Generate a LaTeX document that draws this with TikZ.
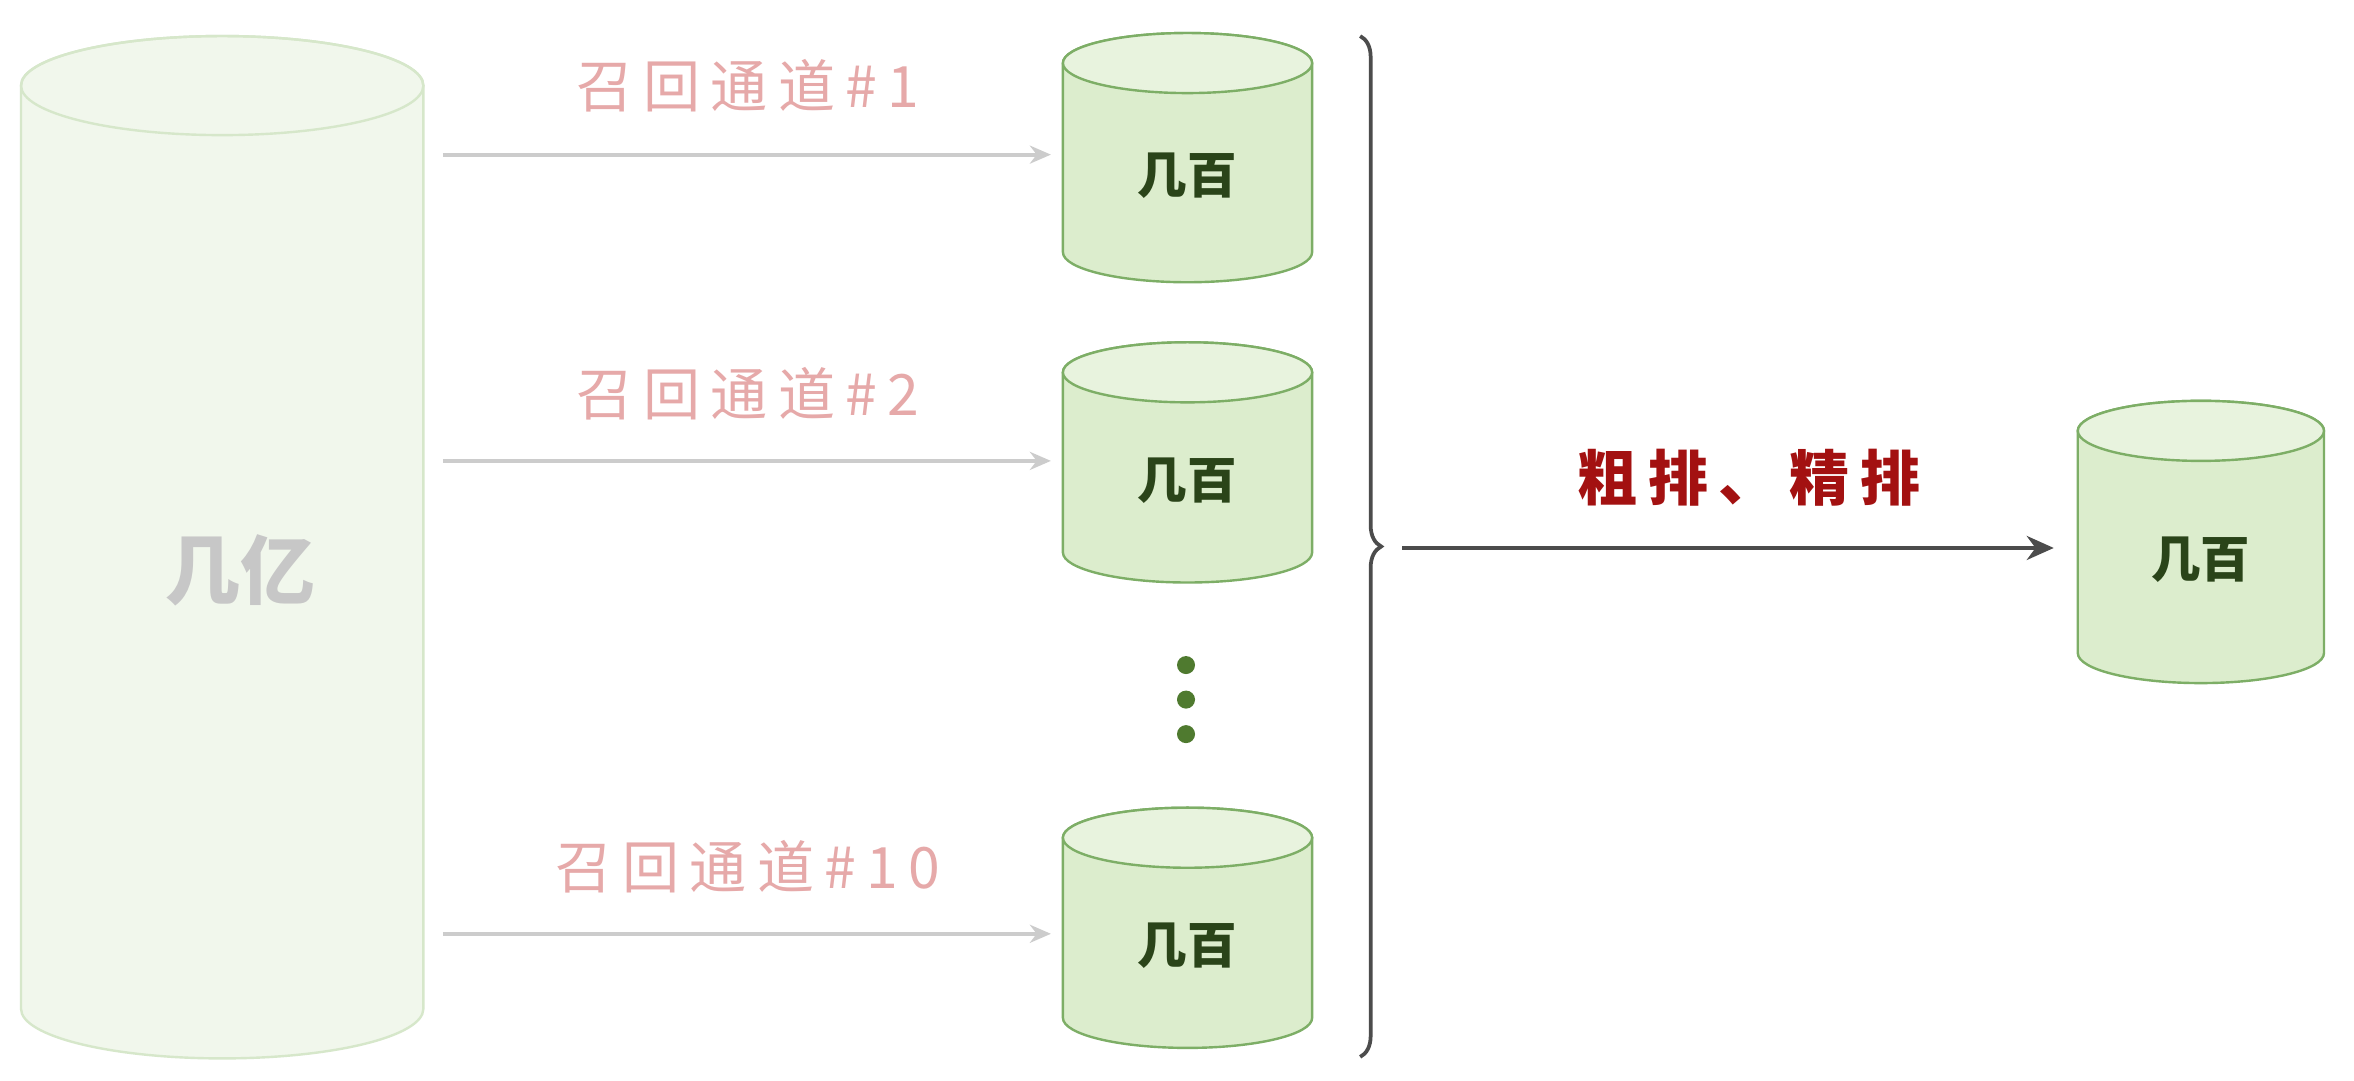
\documentclass[tikz,border=0pt]{standalone}
\usepackage{fontspec}
\newfontfamily\cjk{Noto Sans CJK SC}
\newfontfamily\cjkw[LetterSpace=18]{Noto Sans CJK SC}
\usetikzlibrary{arrows.meta,decorations.pathreplacing}
\definecolor{bigfill}{HTML}{F1F7EC}
\definecolor{bigline}{HTML}{D6E7CA}
\definecolor{smfill}{HTML}{DCEDCD}
\definecolor{smtop}{HTML}{E8F3DE}
\definecolor{smline}{HTML}{7DAE66}
\definecolor{pinklab}{HTML}{E6A9A9}
\definecolor{darkred}{HTML}{A31111}
\definecolor{txtgreen}{HTML}{2A4419}
\definecolor{dotgreen}{HTML}{4F7A2F}
\tikzset{
  flow/.style={draw=black!20,line width=2.5pt,-{Stealth[length=14pt,width=12pt]}},
  chan/.style={text=pinklab,font=\cjkw\fontsize{38}{40}\selectfont},
  few/.style={text=txtgreen,font=\cjk\bfseries\fontsize{33}{36}\selectfont},
}
\newcommand{\mycyl}[6]{% x1 x2 ytop ybot ry name
  \fill[smfill,draw=smline,line width=1.6pt] (#1,#3) -- (#1,#4) arc[start angle=180,end angle=0,x radius={(#2-#1)/2},y radius=#5] -- (#2,#3) arc[start angle=0,end angle=-180,x radius={(#2-#1)/2},y radius=#5] -- cycle;
  \fill[smtop,draw=smline,line width=1.6pt] ({(#1+#2)/2},#3) ellipse[x radius={(#2-#1)/2},y radius=#5];
  \node[few] (#6) at ({(#1+#2)/2},{(#3+#4)/2+12}) {几百};
}
\begin{document}
\begin{tikzpicture}[x=1pt,y=-1pt]
\useasboundingbox[fill=white] (0,0) rectangle (1568,720);
% big cylinder
\fill[bigfill,draw=bigline,line width=1.6pt] (14,57) -- (14,672) arc[start angle=180,end angle=0,x radius=134,y radius=33] -- (282,57) arc[start angle=0,end angle=-180,x radius=134,y radius=33] -- cycle;
\draw[bigline,line width=1.6pt] (148,57) ellipse[x radius=134,y radius=33];
\node[text=black!22,font=\cjk\bfseries\fontsize{50}{54}\selectfont] (big) at (160,380) {几亿};
\coordinate (s1) at (295,103); \coordinate (s2) at (295,307); \coordinate (s3) at (295,622);
% small cylinders
\mycyl{708}{874}{42}{168}{20}{c1}
\mycyl{708}{874}{248}{368}{20}{c2}
\mycyl{708}{874}{558}{678}{20}{c3}
\mycyl{1384}{1548}{287}{435}{20}{c4}
\coordinate (e1) at (700,103); \coordinate (e2) at (700,307); \coordinate (e3) at (700,622);
\draw[flow] (s1) -- (e1);
\draw[flow] (s2) -- (e2);
\draw[flow] (s3) -- (e3);
\node[chan] (l1) at (498,57) {召回通道\#1};
\node[chan] (l2) at (498,262) {召回通道\#2};
\node[chan] (l3) at (498,577) {召回通道\#10};
\foreach \y in {443,466,489} \fill[dotgreen] (790,\y) circle[radius=6];
% brace
\draw[black!70,line width=2.5pt,decorate,decoration={brace,amplitude=14pt}] (906,24) -- (906,704);
\coordinate (b) at (934,365);
\coordinate (t) at (1368,365);
\draw[black!70,line width=2.5pt,-{Stealth[length=18pt,width=16pt]}] (b) -- (t);
\node[text=darkred,font=\cjkw\bfseries\fontsize{40}{44}\selectfont] (rk) at (1165,318) {粗排、精排};
\end{tikzpicture}
\end{document}
